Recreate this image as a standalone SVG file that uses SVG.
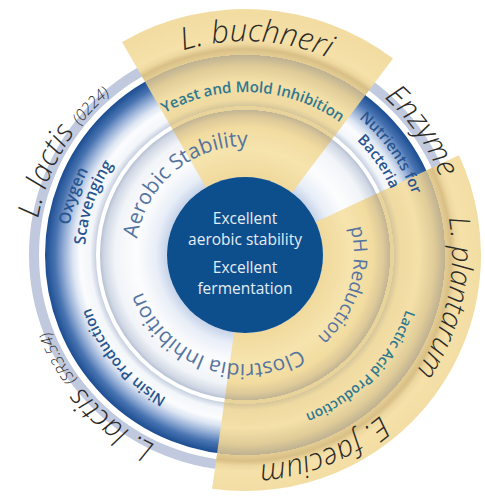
<svg xmlns="http://www.w3.org/2000/svg" width="485" height="498" viewBox="0 0 485 498">
<defs>
<radialGradient id="gb" gradientUnits="userSpaceOnUse" cx="0" cy="0" r="241">
<stop offset="0.3237" stop-color="#c6d3e9"/>
<stop offset="0.37" stop-color="#e8eef7"/>
<stop offset="0.45" stop-color="#fdfdfe"/>
<stop offset="0.54" stop-color="#f1f4f8"/>
<stop offset="0.585" stop-color="#d0d7e4"/>
<stop offset="0.6017" stop-color="#b6c0d3"/>
<stop offset="0.6183" stop-color="#c8d1e1"/>
<stop offset="0.6432" stop-color="#f3f6fa"/>
<stop offset="0.6846" stop-color="#fbfcfe"/>
<stop offset="0.7137" stop-color="#dce5f2"/>
<stop offset="0.7469" stop-color="#9db5da"/>
<stop offset="0.7884" stop-color="#4873b1"/>
<stop offset="0.8299" stop-color="#1b4d91"/>
</radialGradient>
<radialGradient id="gy" gradientUnits="userSpaceOnUse" cx="0" cy="0" r="241">
<stop offset="0.3237" stop-color="#f0d99c"/>
<stop offset="0.44" stop-color="#f6e4ae"/>
<stop offset="0.53" stop-color="#f2dca0"/>
<stop offset="0.575" stop-color="#ddc999"/>
<stop offset="0.6017" stop-color="#c2b594"/>
<stop offset="0.6025" stop-color="#e8d39a"/>
<stop offset="0.6175" stop-color="#e8d39a"/>
<stop offset="0.6183" stop-color="#d6c69a"/>
<stop offset="0.645" stop-color="#efdaa1"/>
<stop offset="0.72" stop-color="#f4e0a8"/>
<stop offset="0.785" stop-color="#e0cc98"/>
<stop offset="0.8299" stop-color="#bfb292"/>
<stop offset="0.8305" stop-color="#e4cd94"/>
<stop offset="0.8548" stop-color="#d8bf86"/>
<stop offset="0.875" stop-color="#eed8a0"/>
<stop offset="0.9" stop-color="#f5e1a9"/>
<stop offset="1" stop-color="#f2dca2"/>
</radialGradient>
<path id="a214" d="M-214,0 A214,214 0 0 1 214,0"/>
<path id="a210" d="M-210,0 A210,210 0 0 1 210,0"/>
<path id="a207" d="M-207,0 A207,207 0 0 1 207,0"/>
<path id="a178" d="M-178,0 A178,178 0 0 1 178,0"/>
<path id="a170" d="M-170,0 A170,170 0 0 1 170,0"/>
<path id="a163" d="M-163,0 A163,163 0 0 1 163,0"/>
<path id="a160" d="M-160,0 A160,160 0 0 1 160,0"/>
<path id="a109" d="M-109,0 A109,109 0 0 1 109,0"/>
</defs>
<style>
.out{font-family:"Open Sans","Liberation Sans",sans-serif;font-style:italic;font-weight:300;font-size:30px;fill:#2b2a26}
.sm{font-size:16px}
.r2{font-family:"Open Sans","Liberation Sans",sans-serif;font-weight:600;font-size:15px;fill:#28558f}
.teal{fill:#2f7890}
.r1{font-family:"Open Sans","Liberation Sans",sans-serif;font-size:21px;fill:#5474a0}
.ctr{font-family:"Open Sans","Liberation Sans",sans-serif;font-size:15.5px;fill:#e6edf6}
</style>
<rect width="485" height="498" fill="#ffffff"/>
<g transform="translate(245,255)">
<g id="rings">
<circle r="211" fill="none" stroke="#c1c9df" stroke-width="10"/>
<circle r="174.5" fill="none" stroke="url(#gb)" stroke-width="51"/>
<circle r="111.5" fill="none" stroke="url(#gb)" stroke-width="67"/>
</g>
<g id="wedges">
<path id="wedge-buchneri" d="M-123,-213 A246,246 0 0 1 148,-196.5 L46.9,-62.3 A78,78 0 0 0 -39,-67.5 Z" fill="url(#gy)"/>
<path id="wedge-plantarum" d="M213.9,-99.7 A236,236 0 0 1 -32.9,233.7 L-10.9,77.2 A78,78 0 0 0 70.7,-33 Z" fill="url(#gy)"/>
</g>
<g id="core">
<circle r="78" fill="#0d4f8d"/>
<text class="ctr" text-anchor="middle" x="0" y="-31.5">Excellent</text>
<text class="ctr" text-anchor="middle" x="0" y="-10.3">aerobic stability</text>
<text class="ctr" text-anchor="middle" x="0" y="17.5">Excellent</text>
<text class="ctr" text-anchor="middle" x="0" y="38.7">fermentation</text>
</g>
<g id="outer-labels">
<g id="lbl-buchneri" transform="rotate(3)"><text class="out" style="font-size:31px" text-anchor="middle"><textPath href="#a214" startOffset="50%">L. buchneri</textPath></text></g>
<g id="lbl-enzyme" transform="rotate(55)"><text class="out" text-anchor="middle"><textPath href="#a210" startOffset="50%">Enzyme</textPath></text></g>
<g id="lbl-plantarum" transform="rotate(102)"><text class="out" style="font-size:29px" text-anchor="middle"><textPath href="#a207" startOffset="50%">L. plantarum</textPath></text></g>
<g id="lbl-faecium" transform="rotate(158)"><text class="out" text-anchor="middle"><textPath href="#a210" startOffset="50%">E. faecium</textPath></text></g>
<g id="lbl-lactis-sr" transform="rotate(227)"><text class="out" text-anchor="middle"><textPath href="#a210" startOffset="50%">L. lactis <tspan class="sm">(SR3.54)</tspan></textPath></text></g>
<g id="lbl-lactis-0224" transform="rotate(-60)"><text class="out" text-anchor="middle"><textPath href="#a210" startOffset="50%">L. lactis <tspan class="sm">(0224)</tspan></textPath></text></g>
</g>
<g id="ring2-labels">
<g id="lbl-yeast" transform="rotate(3)"><text class="r2 teal" text-anchor="middle"><textPath href="#a163" startOffset="50%">Yeast and Mold Inhibition</textPath></text></g>
<g id="lbl-nutrients" transform="rotate(55)"><text class="r2" text-anchor="middle"><textPath href="#a178" startOffset="50%">Nutrients for</textPath></text><text class="r2" text-anchor="middle"><textPath href="#a160" startOffset="50%">Bacteria</textPath></text></g>
<g id="lbl-oxygen" transform="rotate(-71)"><text class="r2" style="font-size:16px" text-anchor="middle"><textPath href="#a178" startOffset="50%">Oxygen</textPath></text><text class="r2" style="font-size:16px" text-anchor="middle"><textPath href="#a160" startOffset="50%">Scavenging</textPath></text></g>
<g id="lbl-nisin" transform="rotate(230)"><text class="r2" text-anchor="middle"><textPath href="#a163" startOffset="50%">Nisin Production</textPath></text></g>
<g id="lbl-lactic" transform="rotate(134)"><text class="r2 teal" style="font-size:14px" text-anchor="middle"><textPath href="#a170" startOffset="50%">Lactic Acid Production</textPath></text></g>
</g>
<g id="ring1-labels">
<g id="lbl-aerobic" transform="rotate(-40)"><text class="r1" text-anchor="middle"><textPath href="#a109" startOffset="50%">Aerobic Stability</textPath></text></g>
<g id="lbl-ph" transform="rotate(107)"><text class="r1" style="font-size:19px" text-anchor="middle"><textPath href="#a109" startOffset="50%">pH Reduction</textPath></text></g>
<g id="lbl-clostridia" transform="rotate(200)"><text class="r1" text-anchor="middle"><textPath href="#a109" startOffset="50%">Clostridia Inhibition</textPath></text></g>
</g>
</g>
</svg>
